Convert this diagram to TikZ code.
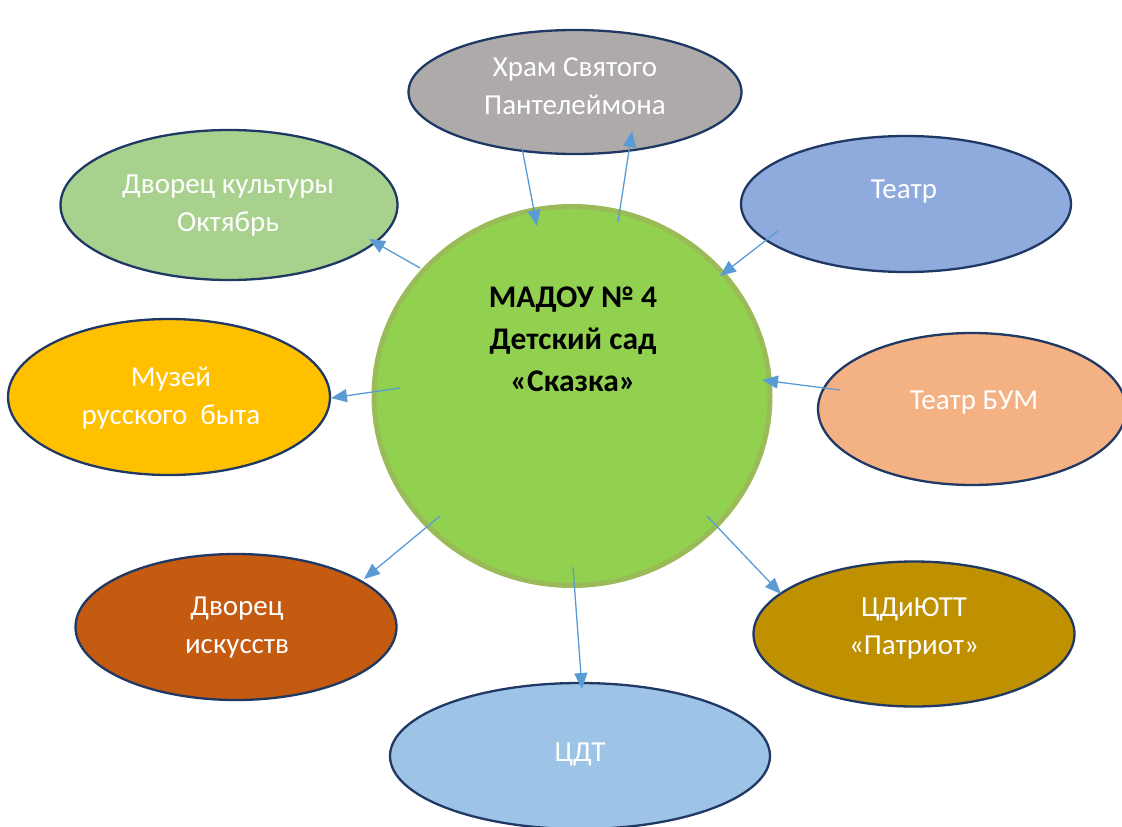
\documentclass[tikz,border=0pt]{standalone}
\usepackage{fontspec}
\setmainfont{Carlito}
\usetikzlibrary{shapes.geometric,arrows.meta}
\definecolor{edge}{HTML}{1F3864}
\definecolor{arr}{HTML}{5B9BD5}
\definecolor{cfill}{HTML}{92D050}
\definecolor{cedge}{HTML}{9BBB59}
\tikzset{
  x=1pt,y=-1pt,
  org/.style={ellipse,draw=edge,line width=2.3pt,inner sep=0pt},
  lbl/.style={text=white,align=center,inner sep=0pt,font=\fontsize{29}{38}\selectfont},
  link/.style={draw=arr,line width=1.3pt,-{Triangle[length=16pt,width=13pt]}},
}
\begin{document}
\begin{tikzpicture}
\useasboundingbox (0,0) rectangle (1122,827);
\node[ellipse,fill=cfill,draw=cedge,line width=5pt,minimum width=396pt,minimum height=379pt,inner sep=0pt] (c) at (572,396) {};
\node[align=center,font=\fontsize{31.5}{42}\selectfont\bfseries] (ct) at (573,339) {МАДОУ № 4\\Детский сад\\«Сказка»};
\node[org,fill={rgb,255:red,174;green,170;blue,170},minimum width=333pt,minimum height=124pt] (hram) at (575,92) {};
\node[org,fill={rgb,255:red,169;green,209;blue,142},minimum width=337pt,minimum height=150pt] (dk) at (229,205) {};
\node[org,fill={rgb,255:red,143;green,170;blue,220},minimum width=330pt,minimum height=136pt] (teatr) at (906,204) {};
\node[org,fill={rgb,255:red,255;green,192;blue,0},minimum width=322pt,minimum height=156pt] (muzei) at (169,397) {};
\node[org,fill={rgb,255:red,244;green,177;blue,131},minimum width=308pt,minimum height=152pt] (bum) at (972,409) {};
\node[org,fill={rgb,255:red,197;green,90;blue,17},minimum width=321pt,minimum height=146pt] (di) at (236,627) {};
\node[org,fill={rgb,255:red,191;green,144;blue,0},minimum width=321pt,minimum height=145pt] (cd) at (914,634) {};
\node[org,fill={rgb,255:red,157;green,195;blue,230},minimum width=380pt,minimum height=146pt] (cdt) at (580,756) {};
% labels
\node[lbl] (hram-t) at (575,86) {Храм Святого\\Пантелеймона};
\node[lbl] (dk-t) at (228,206) {Дворец культуры\\Октябрь};
\node[lbl] (teatr-t) at (904,192) {Театр};
\node[lbl] (muzei-t) at (171,398.5) {Музей\\русского\ \ быта};
\node[lbl] (bum-t) at (974,403) {Театр БУМ};
\node[lbl] (di-t) at (237,628) {Дворец\\искусств};
\node[lbl] (cd-t) at (914,628) {ЦДиЮТТ\\«Патриот»};
\node[lbl] (cdt-t) at (580,754) {ЦДТ};
% connector end points
\coordinate (h1) at (522,148); \coordinate (c1) at (537,226);
\coordinate (c2) at (618,222); \coordinate (h2) at (632,131);
\coordinate (c3) at (420,268); \coordinate (d3) at (369,239);
\coordinate (t4) at (778,231); \coordinate (c4) at (720,276);
\coordinate (c5) at (400,388); \coordinate (m5) at (331,398);
\coordinate (b6) at (840,390); \coordinate (c6) at (762,380);
\coordinate (c7) at (440,516); \coordinate (i7) at (364,579);
\coordinate (c8) at (707,516); \coordinate (p8) at (781,594);
\coordinate (c9) at (573,567); \coordinate (z9) at (582,689);
\draw[link] (h1) -- (c1);
\draw[link] (c2) -- (h2);
\draw[link] (c3) -- (d3);
\draw[link] (t4) -- (c4);
\draw[link] (c5) -- (m5);
\draw[link] (b6) -- (c6);
\draw[link] (c7) -- (i7);
\draw[link] (c8) -- (p8);
\draw[link] (c9) -- (z9);
\end{tikzpicture}
\end{document}
